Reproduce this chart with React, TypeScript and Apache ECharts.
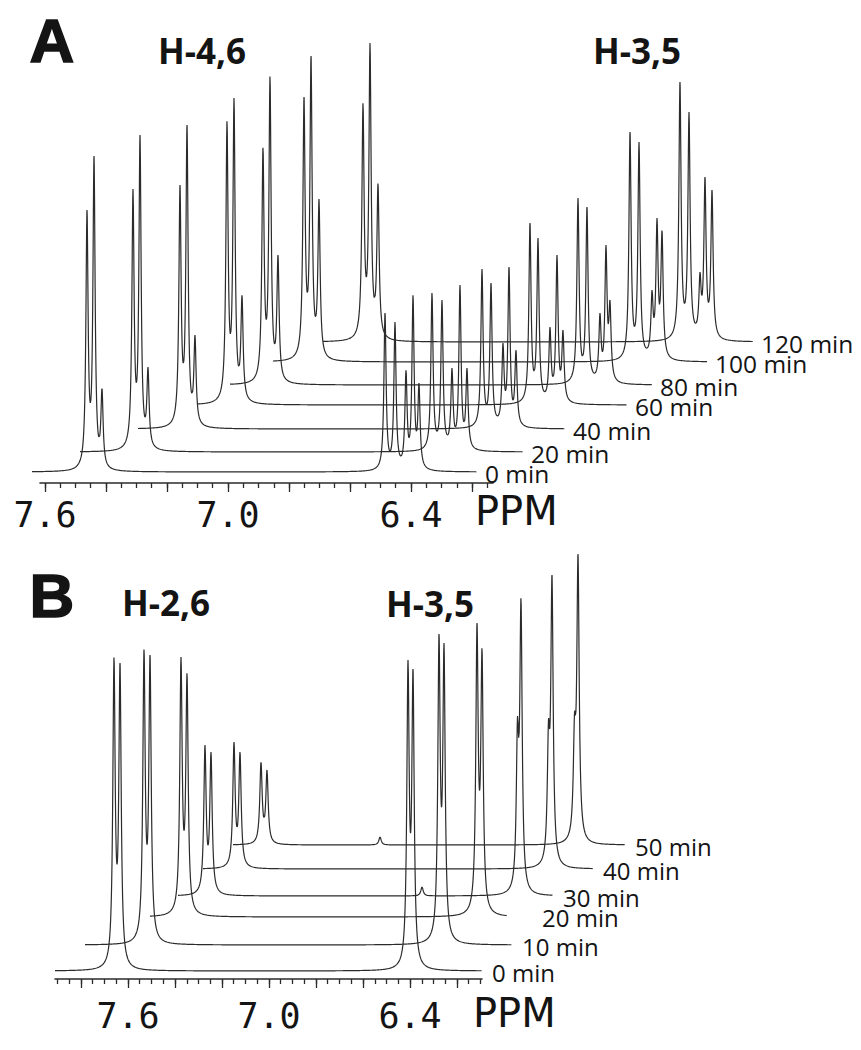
import React, { useEffect, useRef } from 'react';
import * as echarts from 'echarts';

// ---------------- Panel A (H-4,6 / H-3,5) ----------------
const timesA = ['0 min', '20 min', '40 min', '60 min', '80 min', '100 min', '120 min'];
// horizontal display offset of each trace (ppm) and vertical lift (intensity units)
const shiftA = [0, 0.1508, 0.3049, 0.459, 0.577, 0.7115, 0.9049];
const liftA = [0, 20, 43, 67, 87, 110, 130];
// ppm range of each trace (own frame)
const startA = [7.6426, 7.6361, 7.6, 7.5574, 7.5705, 7.5639, 7.5934];
const endA = [6.1836, 6.1836, 6.2, 6.1508, 6.187, 6.1410, 6.1836];
// H-4,6 multiplet lines (ppm) and apparent peak heights per trace
const h46PosA = [7.4623, 7.4393, 7.4131];
const h46HeightA = [
  [262, 316, 84],
  [263, 317, 85],
  [244, 304, 94],
  [284, 307, 110],
  [238, 309, 130],
  [265, 306, 163],
  [239, 299, 159],
];
// H-3,5 lines (ppm) and apparent heights per trace
const h35PosA = [
  [6.4852, 6.4525, 6.4164, 6.3934, 6.3738],
  [6.482, 6.4492, 6.4164, 6.3902, 6.3672],
  [6.4721, 6.4426, 6.4033, 6.3836, 6.3607],
  [6.4689, 6.4426, 6.4033, 6.3803, 6.3607],
  [6.4295, 6.4, 6.3574, 6.3377, 6.3246],
  [6.3934, 6.3639, 6.3213, 6.3049, 6.2885],
  [6.423, 6.3934, 6.3574, 6.341, 6.318],
];
const h35HeightA = [
  [159, 150, 102, 177, 89],
  [159, 152, 84, 167, 84],
  [160, 146, 86, 162, 79],
  [182, 167, 78, 150, 75],
  [187, 178, 72, 140, 85],
  [230, 220, 72, 144, 132],
  [260, 230, 70, 165, 152],
];
const tickLabelsA = [7.6, 7.0, 6.4];
const majorTicksA = [7.6, 7.4, 7.2, 7.0, 6.8, 6.6, 6.4, 6.2];

// ---------------- Panel B (H-2,6 / H-3,5) ----------------
const timesB = ['0 min', '10 min', '20 min', '30 min', '40 min', '50 min'];
const shiftB = [0, 0.1277, 0.2851, 0.3872, 0.5106, 0.6255];
const liftB = [0, 26, 54, 75, 102, 126];
const startB = [7.9106, 7.9106, 7.7915, 7.7745, 7.7915, 7.7787];
const endB = [6.0936, 6.0936, 6.2723, 6.1787, 6.1319, 6.1106];
const h26PosB = [7.6596, 7.634];
const h26HeightB = [
  [314, 308],
  [296, 290],
  [260, 244],
  [151, 144],
  [127, 117],
  [83, 75],
];
const h35PosB = [
  [6.4085, 6.3872],
  [6.4043, 6.383],
  [6.4, 6.3787],
  [6.3298, 6.3149],
  [6.3213, 6.3064],
  [6.3255, 6.3106],
];
const h35HeightB = [
  [311, 302],
  [311, 302],
  [294, 269],
  [180, 298],
  [149, 294],
  [132, 291],
];
// small impurity lines seen on some traces: [trace, ppm, height]
const minorLinesB: [number, number, number][] = [
  [3, 6.736, 9],
  [5, 7.153, 8],
];
const tickLabelsB = [7.6, 7.0, 6.4];
const majorTicksB = [7.8, 7.6, 7.4, 7.2, 7.0, 6.8, 6.6, 6.4, 6.2];

// ---------------- layout constants ----------------
const W = 861;
const H = 1050;
const AX76 = 45, APX = 305; // panel A: pixel of 7.6 ppm, pixels per ppm
const BX76 = 128, BPX = 235; // panel B
const ppmA = (x: number) => 7.6 - (x - AX76) / APX;
const ppmB = (x: number) => 7.6 - (x - BX76) / BPX;

const LINE = '#2b2b2b';
const TXT = '#141414';

function rangeTicks(lo: number, hi: number, step: number) {
  const out: number[] = [];
  const n = Math.round((hi - lo) / step);
  for (let i = 0; i <= n; i++) out.push(+(lo + i * step).toFixed(3));
  return out;
}

// turn apparent peak tops into line amplitudes (remove neighbours' tails)
function amplitudes(peaks: [number, number][], width: number) {
  const w2 = width * width;
  let amp = peaks.map((p) => p[1]);
  for (let it = 0; it < 30; it++) {
    amp = peaks.map(([c, top], i) => {
      let others = 0;
      peaks.forEach(([c2], j) => {
        if (j !== i) others += (amp[j] * w2) / (w2 + (c - c2) * (c - c2));
      });
      return Math.max(top * 0.25, top - others);
    });
  }
  return peaks.map((p, i) => [p[0], amp[i]] as [number, number]);
}

function buildTrace(
  tops: [number, number][],
  start: number,
  end: number,
  width: number,
  step: number,
  shift: number,
  lift: number
) {
  const peaks = amplitudes(tops, width);
  const xs: number[] = [];
  for (let p = start; p > end; p -= step) xs.push(p);
  xs.push(end);
  peaks.forEach(([c]) => {
    if (c < start && c > end) xs.push(c);
  });
  xs.sort((a, b) => b - a);
  const w2 = width * width;
  return xs.map((p) => {
    let v = 0;
    for (const [c, h] of peaks) v += (h * w2) / (w2 + (p - c) * (p - c));
    return [p - shift, v + lift];
  });
}

function endLabel(text: string, fs: number, dx: number) {
  return {
    show: true,
    formatter: () => text,
    align: 'left',
    verticalAlign: 'middle',
    distance: 0,
    offset: [dx, 2],
    fontFamily: "'Open Sans', sans-serif",
    fontSize: fs,
    lineHeight: 19,
    color: TXT,
  };
}

export default function App() {
  const ref = useRef<HTMLDivElement>(null);
  useEffect(() => {
    if (!ref.current) return;
    const chart = echarts.init(ref.current, undefined, { renderer: 'svg', width: W, height: H });

    const series: any[] = [];
    timesA.forEach((t, i) => {
      const tops: [number, number][] = [];
      h46PosA.forEach((p, k) => tops.push([p, h46HeightA[i][k]]));
      h35PosA[i].forEach((p, k) => tops.push([p, h35HeightA[i][k]]));
      series.push({
        type: 'line',
        name: t,
        xAxisIndex: 0,
        yAxisIndex: 0,
        data: buildTrace(tops, startA[i], endA[i], 0.0043, 0.001, shiftA[i], liftA[i]),
        showSymbol: false,
        symbol: 'none',
        silent: true,
        clip: false,
        lineStyle: { color: LINE, width: 1.2 },
        endLabel: endLabel(t, 24.5, 8),
      });
    });
    timesB.forEach((t, i) => {
      const tops: [number, number][] = [];
      h26PosB.forEach((p, k) => tops.push([p, h26HeightB[i][k]]));
      h35PosB[i].forEach((p, k) => tops.push([p, h35HeightB[i][k]]));
      minorLinesB.filter((m) => m[0] === i).forEach((m) => tops.push([m[1], m[2]]));
      series.push({
        type: 'line',
        name: t,
        xAxisIndex: 1,
        yAxisIndex: 1,
        data: buildTrace(tops, startB[i], endB[i], 0.006, 0.0012, shiftB[i], liftB[i]),
        showSymbol: false,
        symbol: 'none',
        silent: true,
        clip: false,
        lineStyle: { color: LINE, width: 1.2 },
        endLabel: endLabel(t, 24, i === 2 ? 35 : 10),
      });
    });
    series.push({ type: 'line', xAxisIndex: 2, yAxisIndex: 2, data: [], silent: true });
    series.push({ type: 'line', xAxisIndex: 4, yAxisIndex: 3, data: [], silent: true });

    const hiddenX = (grid: number, lo: number, hi: number) => ({
      type: 'value', gridIndex: grid, min: lo, max: hi, inverse: true, show: false,
    });
    const hiddenY = (grid: number, hi: number) => ({
      type: 'value', gridIndex: grid, min: 0, max: hi, show: false,
    });
    const fmt = (v: number) => v.toFixed(1);
    const digitFont = { fontFamily: "'DejaVu Sans Mono', monospace", fontSize: 35, color: TXT };

    const axisMinor = (grid: number, lo: number, hi: number, ticks: number[], labels: number[], margin: number) => ({
      type: 'value',
      gridIndex: grid,
      position: 'bottom',
      min: lo,
      max: hi,
      inverse: true,
      splitLine: { show: false },
      axisLine: { show: true, onZero: false, lineStyle: { color: LINE, width: 1.6 } },
      axisTick: { show: true, customValues: ticks, length: 5, lineStyle: { color: LINE, width: 1.3 } },
      axisLabel: { show: true, customValues: labels, formatter: fmt, margin, ...digitFont },
    });
    const axisMajor = (grid: number, lo: number, hi: number, ticks: number[]) => ({
      type: 'value',
      gridIndex: grid,
      position: 'bottom',
      min: lo,
      max: hi,
      inverse: true,
      splitLine: { show: false },
      axisLine: { show: false },
      axisTick: { show: true, customValues: ticks, length: 9, lineStyle: { color: LINE, width: 1.3 } },
      axisLabel: { show: false },
    });

    const boldLabel = "bold 35px 'Open Sans', sans-serif";
    const option: any = {
      animation: false,
      backgroundColor: '#ffffff',
      grid: [
        { left: 0, top: 22, width: W, height: 450 },
        { left: 0, top: 521, width: W, height: 450 },
        { left: 40, top: 473, width: 453, height: 10 },
        { left: 55, top: 969, width: 427, height: 10 },
      ],
      xAxis: [
        hiddenX(0, ppmA(W), ppmA(0)),
        hiddenX(1, ppmB(W), ppmB(0)),
        axisMinor(2, ppmA(493), ppmA(40), rangeTicks(6.15, 7.6, 0.05), tickLabelsA, 14),
        axisMajor(2, ppmA(493), ppmA(40), majorTicksA),
        axisMinor(3, ppmB(482), ppmB(55), rangeTicks(6.1, 7.9, 0.05), tickLabelsB, 19),
        axisMajor(3, ppmB(482), ppmB(55), majorTicksB),
      ],
      yAxis: [hiddenY(0, 450), hiddenY(1, 450), hiddenY(2, 1), hiddenY(3, 1)],
      series,
      graphic: [
        {
          type: 'text', x: 52, y: 40,
          style: { text: 'A', fill: TXT, stroke: TXT, lineWidth: 1.5, align: 'center', verticalAlign: 'middle', font: "bold 62px 'Liberation Sans', sans-serif" },
        },
        {
          type: 'text', x: 52, y: 595,
          style: { text: 'B', fill: TXT, stroke: TXT, lineWidth: 1.5, align: 'center', verticalAlign: 'middle', font: "bold 62px 'Liberation Sans', sans-serif" },
        },
        { type: 'text', x: 158, y: 50, style: { text: 'H-4,6', fill: TXT, align: 'left', verticalAlign: 'middle', font: boldLabel } },
        { type: 'text', x: 593, y: 50, style: { text: 'H-3,5', fill: TXT, align: 'left', verticalAlign: 'middle', font: boldLabel } },
        { type: 'text', x: 122, y: 602, style: { text: 'H-2,6', fill: TXT, align: 'left', verticalAlign: 'middle', font: boldLabel } },
        { type: 'text', x: 386, y: 603, style: { text: 'H-3,5', fill: TXT, align: 'left', verticalAlign: 'middle', font: boldLabel } },
        { type: 'text', x: 475, y: 511, style: { text: 'PPM', fill: TXT, align: 'left', verticalAlign: 'middle', font: "40px 'DejaVu Sans', sans-serif" } },
        { type: 'text', x: 473, y: 1013, style: { text: 'PPM', fill: TXT, align: 'left', verticalAlign: 'middle', font: "40px 'DejaVu Sans', sans-serif" } },
      ],
    };
    chart.setOption(option);
    return () => chart.dispose();
  }, []);
  return (
    <div
      ref={ref}
      style={{ position: 'absolute', left: 0, top: 0, width: W, height: H, background: '#fff' }}
    />
  );
}
